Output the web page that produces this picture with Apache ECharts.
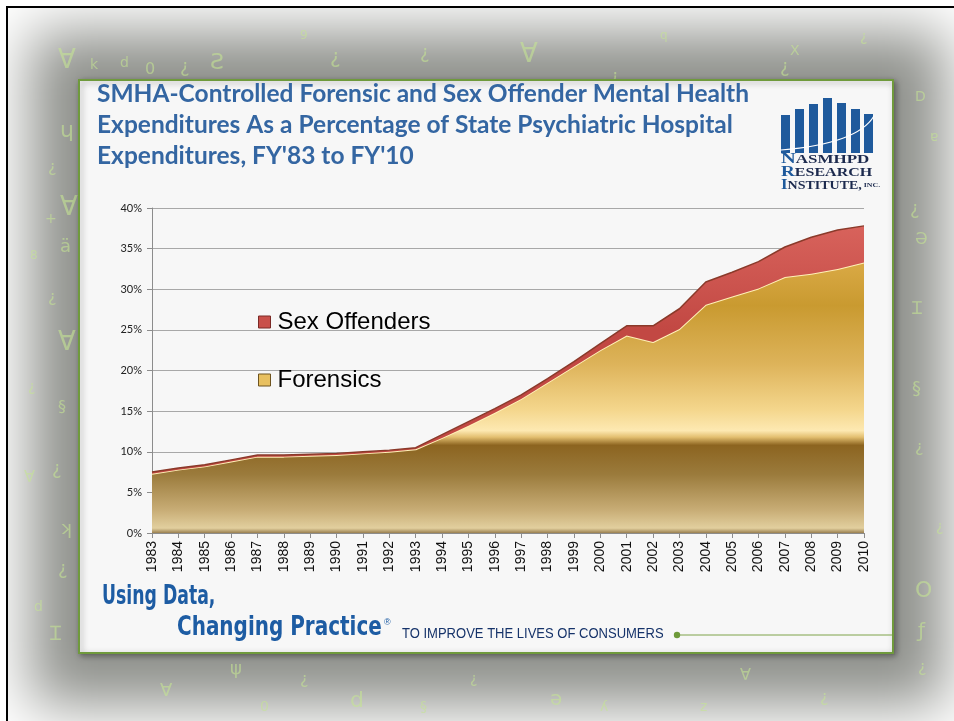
<!DOCTYPE html>
<html>
<head>
    <meta charset="utf-8">
    <title>SMHA forensic expenditures</title>
    <script src="https://cdn.jsdelivr.net/npm/echarts@6/dist/echarts.min.js"></script>
    <style>
        body { margin: 0; background: #fff; }
        #page { position: relative; width: 954px; height: 721px; overflow: hidden; background: #fff; }
        #frame { position: absolute; left: 6px; top: 6px; width: 960px; height: 730px;
                 border-left: 2px solid #000; border-top: 2px solid #000; overflow: hidden; }
        #shade { position: absolute; left: 73px; top: 74px; width: 814px; height: 573px;
                 background: #8f918c; box-shadow: 0 0 55px 50px #8f918c; }
        #main { position: absolute; left: 0; top: 0; width: 954px; height: 721px; }
    </style>
</head>
<body>
<div id="page">
    <div id="frame"><div id="shade"></div></div>
    <div id="main"></div>
</div>

<script type="text/javascript">
    // 数据
    var years = ['1983','1984','1985','1986','1987','1988','1989','1990','1991','1992',
                 '1993','1994','1995','1996','1997','1998','1999','2000','2001','2002',
                 '2003','2004','2005','2006','2007','2008','2009','2010'];
    var forensics = [7.3, 7.8, 8.2, 8.8, 9.4, 9.4, 9.5, 9.6, 9.8, 10.0,
                     10.3, 11.7, 13.2, 14.8, 16.5, 18.5, 20.5, 22.5, 24.3, 23.5,
                     25.1, 28.1, 29.1, 30.1, 31.5, 31.9, 32.5, 33.3];
    var sexOffenders = [0.2, 0.2, 0.2, 0.2, 0.2, 0.2, 0.2, 0.2, 0.2, 0.2,
                        0.2, 0.4, 0.5, 0.5, 0.5, 0.5, 0.6, 0.8, 1.2, 2.0,
                        2.5, 2.8, 3.0, 3.3, 3.7, 4.5, 4.8, 4.5];
    var yTicks = [0, 5, 10, 15, 20, 25, 30, 35, 40];

    var titleText = 'SMHA-Controlled Forensic and Sex Offender Mental Health\n' +
                    'Expenditures As a Percentage of State Psychiatric Hospital\n' +
                    'Expenditures, FY\'83 to FY\'10';

    // 背景上的装饰字符
    var glyphs = [
        ['Ɐ', 58, 48, 26], ['k', 90, 58, 14], ['d', 120, 56, 14], ['0', 145, 62, 16], ['¿', 180, 58, 18],
        ['Ƨ', 210, 52, 22], ['¿', 330, 48, 20], ['¿', 420, 44, 18], ['Ɐ', 520, 42, 26], ['¿', 610, 68, 18],
        ['X', 790, 44, 14], ['¿', 780, 58, 18], ['D', 915, 90, 14], ['ɥ', 60, 120, 22], ['¿', 48, 160, 16],
        ['Ɐ', 60, 195, 26], ['ä', 60, 238, 18], ['+', 45, 212, 14], ['Ɐ', 58, 330, 26], ['¿', 48, 290, 16],
        ['§', 58, 400, 16], ['¿', 52, 460, 18], ['ʞ', 60, 520, 18], ['¿', 58, 560, 18], ['Ɪ', 50, 625, 20],
        ['¿', 910, 200, 18], ['Ə', 915, 232, 16], ['Ɪ', 912, 300, 18], ['§', 912, 380, 18], ['¿', 915, 440, 16],
        ['O', 915, 580, 22], ['ƒ', 918, 622, 20], ['¿', 918, 660, 16], ['ψ', 230, 660, 18], ['¿', 300, 672, 16],
        ['d', 350, 690, 22], ['ə', 550, 690, 20], ['¿', 470, 672, 14], ['∀', 740, 668, 16], ['¿', 820, 690, 16],
        ['Ɐ', 160, 682, 18], ['0', 260, 700, 14], ['z', 700, 700, 14], ['§', 420, 700, 14],
        ['8', 30, 250, 12], ['¿', 28, 380, 14], ['∀', 24, 470, 16], ['d', 34, 600, 14], ['ɐ', 930, 130, 14],
        ['¿', 936, 520, 14], ['9', 300, 30, 12], ['q', 660, 30, 12], ['¿', 860, 30, 14], ['ʎ', 600, 700, 14]
    ];

    var myChart = echarts.init(document.getElementById('main'));

    var goldFill = new echarts.graphic.LinearGradient(0, 208, 0, 533, [
        { offset: 0.00, color: '#c48e26' },
        { offset: 0.18, color: '#d8a843' },
        { offset: 0.30, color: '#c99a30' },
        { offset: 0.48, color: '#ddb35a' },
        { offset: 0.62, color: '#f4d68c' },
        { offset: 0.685, color: '#fde9b2' },
        { offset: 0.705, color: '#e3bf70' },
        { offset: 0.73, color: '#8c6420' },
        { offset: 0.82, color: '#9b7b3c' },
        { offset: 0.93, color: '#c8ad76' },
        { offset: 0.985, color: '#e2cf9e' },
        { offset: 1.00, color: '#9a8050' }
    ], true);

    var redFill = new echarts.graphic.LinearGradient(0, 220, 0, 330, [
        { offset: 0, color: '#d9645d' },
        { offset: 1, color: '#c24843' }
    ], true);

    var graphics = [];
    glyphs.forEach(function (g) {
        graphics.push({
            type: 'text', x: g[1], y: g[2], z: -20, silent: true,
            style: { text: g[0], fill: 'rgba(196,228,146,0.6)', font: g[3] + 'px DejaVu Sans' }
        });
    });

    // 白色面板
    graphics.push({
        type: 'rect', z: -10,
        shape: { x: 79, y: 80, width: 814, height: 573 },
        style: { fill: '#f7f7f7', stroke: '#6f9a3c', lineWidth: 2,
                 shadowBlur: 6, shadowColor: 'rgba(0,0,0,0.35)', shadowOffsetX: 2, shadowOffsetY: 2 }
    });

    // 标题
    graphics.push({
        type: 'text', x: 97, y: 79, z: 5,
        style: { text: titleText, fill: '#3466a2', font: 'bold 24.5px Lato', lineHeight: 31 }
    });

    // logo
    var bars = [[781, 115], [795, 109], [809, 104], [823, 98], [837, 103], [851, 109], [864, 114]];
    bars.forEach(function (b) {
        graphics.push({
            type: 'rect', z: 5,
            shape: { x: b[0], y: b[1], width: 9, height: 153 - b[1] },
            style: { fill: '#1f5a9c' }
        });
    });
    graphics.push({
        type: 'bezierCurve', z: 6,
        shape: { x1: 781, y1: 150, x2: 874, y2: 116, cpx1: 830, cpy1: 146, cpx2: 862, cpy2: 136 },
        style: { stroke: '#ffffff', lineWidth: 1.2, fill: null }
    });
    var logoLines = [['N', 'ASMHPD', '', 152, 1.36], ['R', 'ESEARCH', '', 165, 1.28], ['I', 'NSTITUTE,', ' INC.', 178, 1.12]];
    logoLines.forEach(function (l) {
        graphics.push({
            type: 'text', x: 781, y: l[3], z: 5, scaleX: l[4],
            style: {
                text: '{a|' + l[0] + '}{b|' + l[1] + '}{c|' + l[2] + '}',
                rich: {
                    a: { fill: '#1f5a9c', font: 'bold 15px Liberation Serif' },
                    b: { fill: '#1c2a4e', font: 'bold 12.5px Liberation Serif' },
                    c: { fill: '#1c2a4e', font: 'bold 7px Liberation Serif' }
                }
            }
        });
    });

    // 底部标语
    graphics.push({
        type: 'text', x: 102, y: 583, z: 5, scaleX: 0.64,
        style: { text: 'Using Data,', fill: '#1d5ca3', font: 'bold 27px DejaVu Sans' }
    });
    graphics.push({
        type: 'text', x: 177, y: 614, z: 5, scaleX: 0.74,
        style: { text: 'Changing Practice', fill: '#1d5ca3', font: 'bold 27px DejaVu Sans' }
    });
    graphics.push({
        type: 'text', x: 384, y: 618, z: 5,
        style: { text: '®', fill: '#1d5ca3', font: '9px Liberation Sans' }
    });
    graphics.push({
        type: 'text', x: 402, y: 627, z: 5, scaleX: 0.93,
        style: { text: 'TO IMPROVE THE LIVES OF CONSUMERS', fill: '#16336a', font: '14px Liberation Sans' }
    });
    graphics.push({
        type: 'line', z: 5,
        shape: { x1: 677, y1: 635, x2: 892, y2: 635 },
        style: { stroke: '#7ea34a', lineWidth: 1 }
    });
    graphics.push({
        type: 'circle', z: 6,
        shape: { cx: 677, cy: 635, r: 3.2 },
        style: { fill: '#6e9a3a' }
    });

    var option = {
        animation: false,
        backgroundColor: 'transparent',
        graphic: graphics,
        grid: { left: 152, right: 90, top: 208, bottom: 188 },
        legend: {
            orient: 'vertical',
            left: 253,
            top: 305,
            itemGap: 34,
            itemWidth: 12,
            itemHeight: 12,
            icon: 'rect',
            textStyle: { fontSize: 24, fontFamily: 'Liberation Sans', color: '#000', padding: [0, 0, 0, 2] },
            data: [
                { name: 'Sex Offenders', itemStyle: { color: '#c9504a', borderColor: '#7a2a26', borderWidth: 1 } },
                { name: 'Forensics', itemStyle: { color: '#e8c060', borderColor: '#6e5420', borderWidth: 1 } }
            ]
        },
        xAxis: {
            type: 'category',
            data: years,
            boundaryGap: false,
            axisLine: { lineStyle: { color: '#8c8c8c' } },
            axisTick: { show: true, length: 5, lineStyle: { color: '#8c8c8c' } },
            axisLabel: { rotate: 90, fontSize: 14, fontFamily: 'Liberation Sans', color: '#111', margin: 8, interval: 0 }
        },
        yAxis: {
            type: 'value',
            min: yTicks[0],
            max: yTicks[yTicks.length - 1],
            interval: yTicks[1] - yTicks[0],
            axisLine: { show: true, lineStyle: { color: '#8c8c8c' } },
            axisTick: { show: true, length: 5, lineStyle: { color: '#8c8c8c' } },
            axisLabel: { formatter: '{value}%', fontSize: 11, fontFamily: 'Lato', color: '#222', margin: 10 },
            splitLine: { lineStyle: { color: '#a8a8a8', width: 1 } }
        },
        series: [
            {
                name: 'Forensics',
                type: 'line',
                stack: 'total',
                data: forensics,
                showSymbol: false,
                lineStyle: { color: '#fff0b8', width: 2 },
                itemStyle: { color: '#e8c060' },
                areaStyle: { color: goldFill, opacity: 1 },
                z: 2
            },
            {
                name: 'Sex Offenders',
                type: 'line',
                stack: 'total',
                data: sexOffenders,
                showSymbol: false,
                lineStyle: { color: '#8a3a2a', width: 1.5 },
                itemStyle: { color: '#c9504a' },
                areaStyle: { color: redFill, opacity: 1 },
                z: 3
            }
        ]
    };

    myChart.setOption(option);
</script>
</body>
</html>
